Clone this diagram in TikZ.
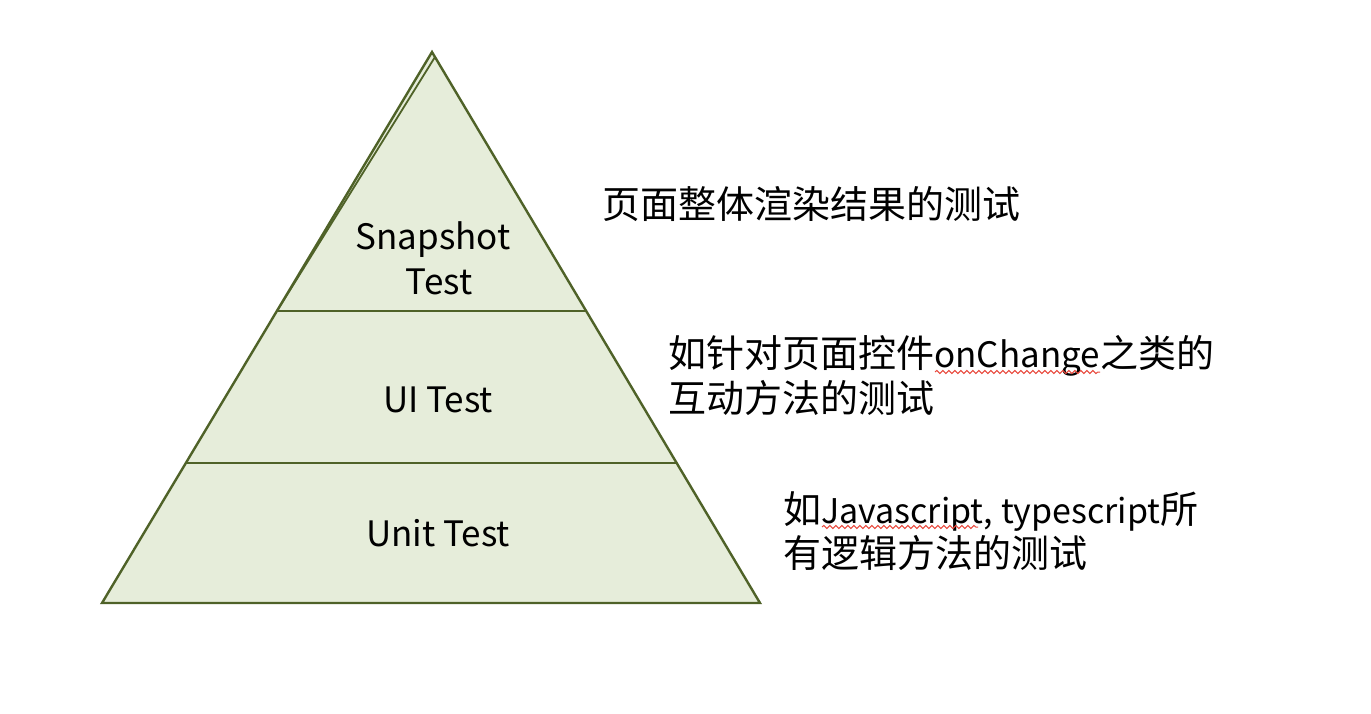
\documentclass[tikz,border=0pt]{standalone}
\usepackage{fontspec}
\setmainfont{Noto Sans CJK SC}
\usetikzlibrary{decorations.pathmorphing}
\definecolor{layerfill}{HTML}{E6EDDA}
\definecolor{layerline}{HTML}{4F6228}
\definecolor{spellred}{HTML}{E8483C}
\newcommand{\latinpart}[1]{{\fontsize{35}{42}\selectfont #1}}
\newcommand{\latinsmall}[1]{{\fontsize{34}{42}\selectfont #1}}
\tikzset{
  layerlabel/.style={anchor=base, inner sep=0pt, font=\fontsize{35}{42}\selectfont},
  note/.style={anchor=base west, inner sep=0pt, font=\fontsize{38}{45}\selectfont},
  edge/.style={draw=layerline, line width=2.4pt},
  wavy/.style={draw=spellred, line width=1pt, decorate, decoration={snake, amplitude=1.6pt, segment length=6pt}}
}
\begin{document}
\begin{tikzpicture}[x=1pt,y=-1pt]
\useasboundingbox (0,0) rectangle (1371,713);
\coordinate (A) at (432,52);
\coordinate (B) at (760,603);
\coordinate (C) at (102,603);
\coordinate (A2) at (435,57);
\coordinate (L1) at (277,311);
\coordinate (R1) at (586,311);
\coordinate (L2) at (186,463);
\coordinate (R2) at (677,463);
\fill[layerfill] (A) -- (B) -- (C) -- cycle;
\draw[edge, line join=miter] (A) -- (B) -- (C) -- cycle;
\draw[edge, line width=1.8pt] (A2) -- (L1);
\draw[edge] (L1) -- (R1);
\draw[edge] (L2) -- (R2);
% layer labels
\node[layerlabel] (snap1) at (433,249) {Snapshot};
\node[layerlabel] (snap2) at (439,294) {Test};
\node[layerlabel] (ui) at (438,412) {UI Test};
\node[layerlabel] (unit) at (438,546) {Unit Test};
% notes
\node[note] (n1) at (602,218) {页面整体渲染结果的测试};
\node[note] (n2a) at (668,367) {如针对页面控件\latinpart{onChange}之类的};
\node[note] (n2b) at (668,412) {互动方法的测试};
\node[note] (n3a) at (783,523) {如\latinsmall{Javascript, typescript}所};
\node[note] (n3b) at (783,567) {有逻辑方法的测试};
% spell-check underlines
\coordinate (w1s) at (935,372);
\coordinate (w1e) at (1100,372);
\coordinate (w2s) at (822,527);
\coordinate (w2e) at (978,527);
\draw[wavy] (w1s) -- (w1e);
\draw[wavy] (w2s) -- (w2e);
\end{tikzpicture}
\end{document}
